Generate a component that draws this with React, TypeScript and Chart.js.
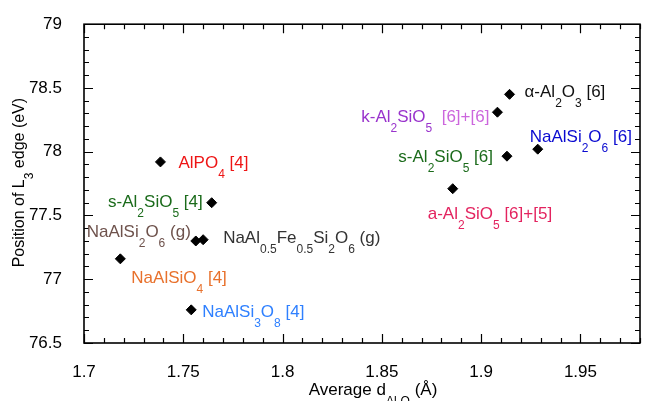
import React, { useEffect, useRef } from 'react';
import { Chart, registerables } from 'chart.js';

Chart.register(...registerables);

const FONT = '"Liberation Sans", Arial, Helvetica, sans-serif';

// ---- data ----
const compounds = [
  'AlPO4', 's-Al2SiO5 [4]', 'NaAlSi2O6 (g)', 'NaAl0.5Fe0.5Si2O6 (g)', 'NaAlSiO4',
  'NaAlSi3O8', 'alpha-Al2O3', 'k-Al2SiO5', 'NaAlSi2O6 [6]', 's-Al2SiO5 [6]', 'a-Al2SiO5',
];
const avgDAlO = [1.7385, 1.7643, 1.7563, 1.7600, 1.7183, 1.7540, 1.9143, 1.9082, 1.9285, 1.9130, 1.8857];
const edgeL3 = [77.92, 77.60, 77.30, 77.31, 77.16, 76.76, 78.45, 78.31, 78.02, 77.965, 77.71];

const labelTexts = [
  'AlPO_{4} [4]',
  's-Al_{2}SiO_{5} [4]',
  'NaAlSi_{2}O_{6} (g)',
  'NaAl_{0.5}Fe_{0.5}Si_{2}O_{6} (g)',
  'NaAlSiO_{4} [4]',
  'NaAlSi_{3}O_{8} [4]',
  'α-Al_{2}O_{3} [6]',
  'k-Al_{2}SiO_{5}  |[6]+[6]',
  'NaAlSi_{2}O_{6} [6]',
  's-Al_{2}SiO_{5} [6]',
  'a-Al_{2}SiO_{5} [6]+[5]',
];
const labelColors = [
  '#ee1515', '#1b6b1b', '#6e524c', '#333333', '#e8712c', '#2f80ff',
  '#111111', '#9933cc|#cc66dd', '#0a0ad0', '#1b6b1b', '#e3235f',
];

const xTickValues = [1.7, 1.75, 1.8, 1.85, 1.9, 1.95];
const xTickLabels = ['1.7', '1.75', '1.8', '1.85', '1.9', '1.95'];
const yTickValues = [76.5, 77, 77.5, 78, 78.5, 79];
const yTickLabels = ['76.5', '77', '77.5', '78', '78.5', '79'];
const xTitle = 'Average d_{Al-O} (Å)';
const yTitle = 'Position of L_{3} edge (eV)';

// ---- layout / style (not data) ----
// [dx, dy, align] : offset of label baseline anchor from its point, in px
const labelPlacement: [number, number, 'left' | 'right'][] = [
  [18, 6, 'left'],
  [-9, 4, 'right'],
  [-5, -4, 'right'],
  [20, 3, 'left'],
  [11, 24, 'left'],
  [11, 7, 'left'],
  [15, 3, 'left'],
  [-8, 10, 'right'],
  [-8, -7, 'left'],
  [-14, 6, 'right'],
  [-25, 30, 'left'],
];

type Seg = { t: string; sub: boolean; color: string };

function parseRich(text: string, colors: string): Seg[] {
  const parts = text.split('|');
  const cols = colors.split('|');
  const segs: Seg[] = [];
  parts.forEach((p, i) => {
    const color = cols[i] ?? cols[0];
    const re = /_\{([^}]*)\}/g;
    let last = 0;
    let m: RegExpExecArray | null;
    while ((m = re.exec(p))) {
      if (m.index > last) segs.push({ t: p.slice(last, m.index), sub: false, color });
      segs.push({ t: m[1], sub: true, color });
      last = re.lastIndex;
    }
    if (last < p.length) segs.push({ t: p.slice(last), sub: false, color });
  });
  return segs;
}

function drawRich(
  ctx: CanvasRenderingContext2D,
  segs: Seg[],
  x: number,
  y: number,
  align: 'left' | 'right' | 'center',
  mainSize: number,
  subSize: number,
  subDrop: number,
) {
  const widths = segs.map((s) => {
    ctx.font = `${s.sub ? subSize : mainSize}px ${FONT}`;
    return ctx.measureText(s.t).width;
  });
  const total = widths.reduce((a, b) => a + b, 0);
  let cx = align === 'left' ? x : align === 'right' ? x - total : x - total / 2;
  ctx.textAlign = 'left';
  ctx.textBaseline = 'alphabetic';
  segs.forEach((s, i) => {
    ctx.font = `${s.sub ? subSize : mainSize}px ${FONT}`;
    ctx.fillStyle = s.color;
    ctx.fillText(s.t, cx, s.sub ? y + subDrop : y);
    cx += widths[i];
  });
}

const overlay = {
  id: 'overlay',
  afterDatasetsDraw(chart: any) {
    const { ctx, chartArea } = chart;
    const { left, right, top, bottom } = chartArea;
    const xs = chart.scales.x;
    const ys = chart.scales.y;
    ctx.save();
    ctx.strokeStyle = '#000';
    ctx.lineWidth = 1.2;
    ctx.beginPath();
    const nx = Math.round((xs.max - xs.min) / 0.01);
    for (let i = 0; i <= nx; i++) {
      const v = xs.min + i * 0.01;
      const px = Math.round(xs.getPixelForValue(v)) + 0.5;
      const major = xTickValues.some((t) => Math.abs(t - v) < 1e-6);
      const len = major ? 9 : 5;
      ctx.moveTo(px, bottom);
      ctx.lineTo(px, bottom - len);
      ctx.moveTo(px, top);
      ctx.lineTo(px, top + len);
    }
    const ny = Math.round((ys.max - ys.min) / 0.1);
    for (let i = 0; i <= ny; i++) {
      const v = ys.min + i * 0.1;
      const py = Math.round(ys.getPixelForValue(v)) + 0.5;
      const major = yTickValues.some((t) => Math.abs(t - v) < 1e-6);
      const len = major ? 9 : 5;
      ctx.moveTo(left, py);
      ctx.lineTo(left + len, py);
      ctx.moveTo(right, py);
      ctx.lineTo(right - len, py);
    }
    ctx.stroke();
    ctx.lineWidth = 1.6;
    ctx.strokeRect(left, top, right - left, bottom - top);

    // point labels
    avgDAlO.forEach((xv, i) => {
      const px = xs.getPixelForValue(xv);
      const py = ys.getPixelForValue(edgeL3[i]);
      const [dx, dy, align] = labelPlacement[i];
      drawRich(ctx, parseRich(labelTexts[i], labelColors[i]), px + dx, py + dy, align, 17, 12, 10);
    });

    // axis titles
    drawRich(ctx, parseRich(xTitle, '#000'), (left + right) / 2 + 11, bottom + 52, 'center', 17, 12, 10);
    ctx.save();
    ctx.translate(left - 60, (top + bottom) / 2 - 1);
    ctx.rotate(-Math.PI / 2);
    drawRich(ctx, parseRich(yTitle, '#000'), 0, 0, 'center', 16, 12, 9);
    ctx.restore();
    ctx.restore();
  },
};

export default function App() {
  const ref = useRef<HTMLCanvasElement | null>(null);
  useEffect(() => {
    document.body.style.margin = '0';
    const canvas = ref.current;
    if (!canvas) return;
    const chart = new Chart(canvas, {
      type: 'scatter',
      data: {
        datasets: [
          {
            label: 'L3 edge',
            data: avgDAlO.map((x, i) => ({ x, y: edgeL3[i] })),
            pointStyle: 'rectRot',
            pointRadius: 5,
            pointHoverRadius: 5,
            backgroundColor: '#000',
            borderColor: '#000',
            borderWidth: 1,
          },
        ],
      },
      options: {
        animation: false,
        responsive: false,
        maintainAspectRatio: false,
        layout: { padding: { top: 21, right: 2, left: 0, bottom: 0 } },
        plugins: { legend: { display: false }, tooltip: { enabled: false }, title: { display: false } },
        scales: {
          x: {
            type: 'linear',
            min: 1.7,
            max: 1.98,
            afterBuildTicks: (s: any) => {
              s.ticks = xTickValues.map((v) => ({ value: v }));
            },
            afterFit: (s: any) => {
              s.height = 58;
            },
            grid: { display: false },
            border: { display: false },
            ticks: {
              padding: 11,
              color: '#000',
              font: { family: FONT, size: 17 },
              maxRotation: 0,
              autoSkip: false,
              callback: (_v: any, i: number) => xTickLabels[i],
            },
          },
          y: {
            type: 'linear',
            min: 76.5,
            max: 79,
            afterBuildTicks: (s: any) => {
              s.ticks = yTickValues.map((v) => ({ value: v }));
            },
            afterFit: (s: any) => {
              s.width = 84;
            },
            grid: { display: false },
            border: { display: false },
            ticks: {
              padding: 14,
              color: '#000',
              font: { family: FONT, size: 17 },
              autoSkip: false,
              callback: (_v: any, i: number) => yTickLabels[i],
            },
          },
        },
      },
      plugins: [overlay],
    });
    return () => chart.destroy();
  }, []);
  return (
    <div style={{ position: 'absolute', left: 0, top: 0, width: 646, height: 401, background: '#fff' }}>
      <canvas ref={ref} width={646} height={401} style={{ display: 'block' }} />
    </div>
  );
}
